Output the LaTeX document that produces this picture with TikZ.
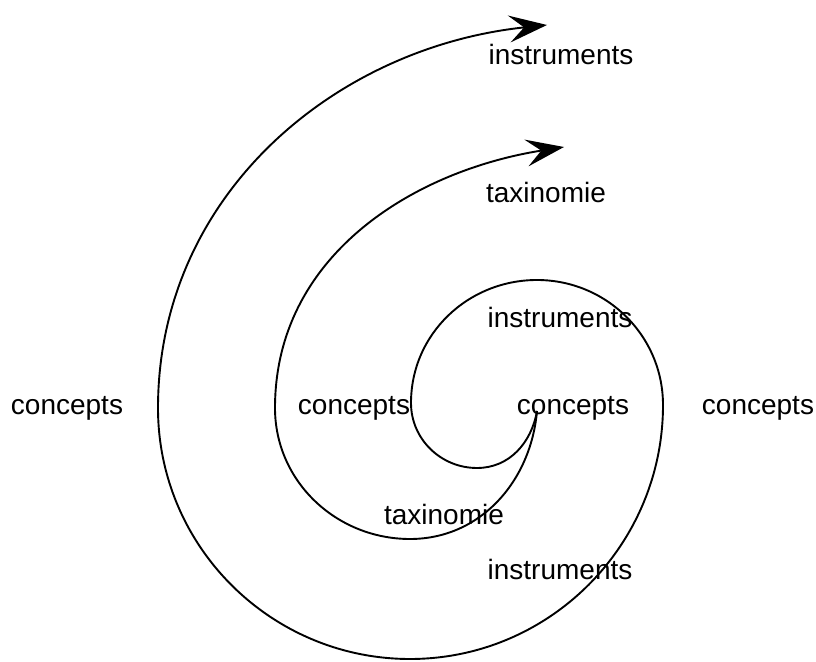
\documentclass[tikz,border=0pt]{standalone}
\usepackage{fontspec}
\setmainfont{Liberation Sans}
\usetikzlibrary{arrows.meta}

\begin{document}
\begin{tikzpicture}[
  x=1pt, y=1pt,
  lbl/.style={font=\fontsize{28}{34}\selectfont, inner sep=0pt, anchor=base},
  spiral/.style={line width=1.9pt},
  arr/.style={spiral, -{Stealth[length=38pt, width=27pt, inset=15pt]}}
]
\useasboundingbox (0,0) rectangle (816,661);

% labels
\node[lbl] (conL)  at (67,246)  {concepts};
\node[lbl] (conM)  at (354,246) {concepts};
\node[lbl] (conC)  at (573,246) {concepts};
\node[lbl] (conR)  at (758,246) {concepts};
\node[lbl] (insT)  at (561,596) {instruments};
\node[lbl] (taxT)  at (546,458) {taxinomie};
\node[lbl] (insI)  at (560,333) {instruments};
\node[lbl] (taxB)  at (444,136) {taxinomie};
\node[lbl] (insB)  at (560,81)  {instruments};

% spiral ends
\coordinate (start) at (537,250);
\coordinate (tipIns) at (547,636);
\coordinate (tipTax) at (564,514);

% outer spiral, towards instruments
\draw[arr] (start) to[out=-100,in=0] (477,193)
  to[out=180,in=-90] (411,258)
  to[out=90,in=180] (537,381)
  to[out=0,in=90] (663,256)
  to[out=-90,in=0] (410,2)
  to[out=180,in=-90] (158,253)
  to[out=90,in=186] (tipIns);

% inner spiral, towards taxinomie
\draw[arr] (start) to[out=-95,in=0] (410,122)
  to[out=180,in=-90] (275,253)
  to[out=90,in=189] (tipTax);
\end{tikzpicture}
\end{document}
